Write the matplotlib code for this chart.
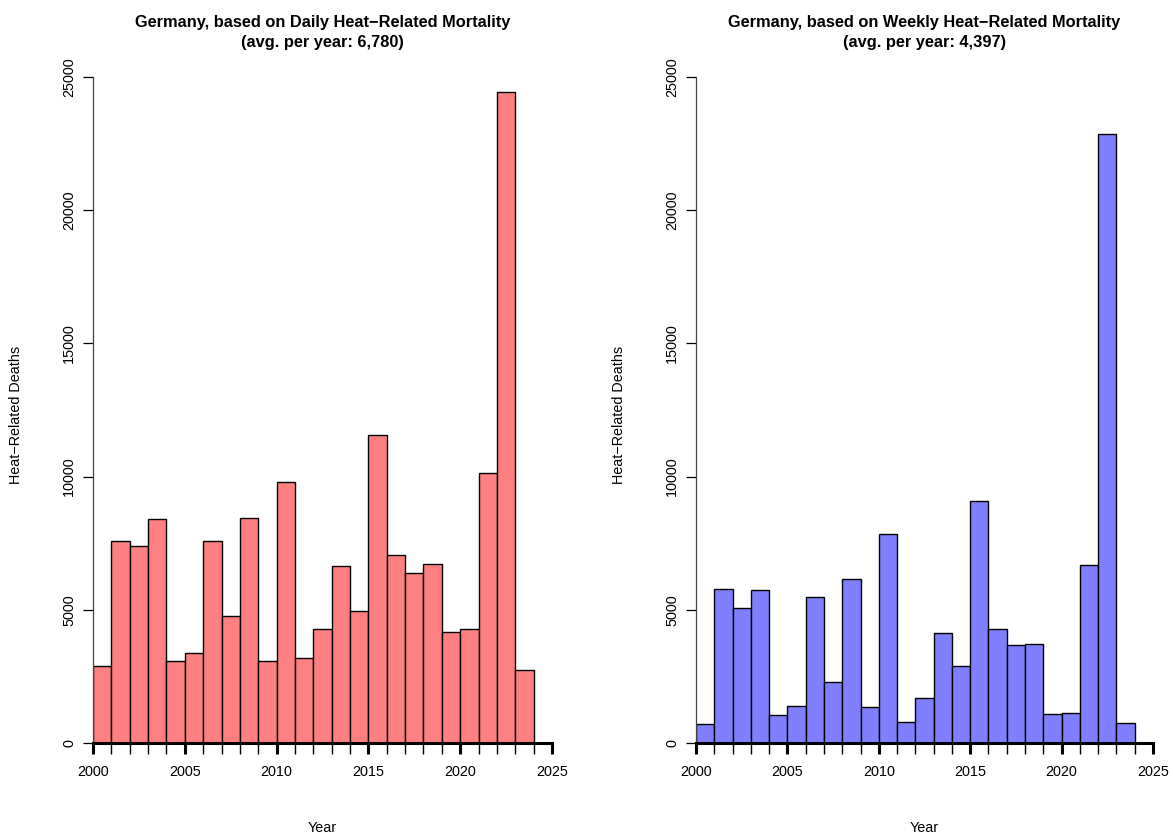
import matplotlib
matplotlib.use("Agg")
import matplotlib.pyplot as plt

plt.rcParams['font.family'] = ['Liberation Sans', 'DejaVu Sans']

years = list(range(2000, 2024))
daily_deaths = [2895, 7570, 7380, 8395, 3070, 3396, 7593, 4761, 8433, 3095,
                9786, 3208, 4273, 6653, 4937, 11553, 7067, 6365, 6716, 4185,
                4285, 10137, 24425, 2732]
weekly_deaths = [714, 5764, 5050, 5739, 1065, 1403, 5488, 2293, 6140, 1366,
                 7831, 789, 1704, 4135, 2907, 9072, 4273, 3696, 3721, 1103,
                 1128, 6691, 22846, 752]
title_lines = [("Germany, based on Daily Heat\u2212Related Mortality", "(avg. per year: 6,780)"),
               ("Germany, based on Weekly Heat\u2212Related Mortality", "(avg. per year: 4,397)")]
colors = ["#FF8080", "#8080FF"]
x_ticks = [2000, 2005, 2010, 2015, 2020, 2025]
y_ticks = [0, 5000, 10000, 15000, 20000, 25000]

W, H = 1173, 836
fig = plt.figure(figsize=(W / 100, H / 100), dpi=100)

panels = [(93, 552), (696, 1153)]
y0, y1 = 743, 77
fs = 10.4

for (xl, xr), vals, (t1, t2), col in zip(panels, [daily_deaths, weekly_deaths], title_lines, colors):
    ax = fig.add_axes([xl / W, 1 - y0 / H, (xr - xl) / W, (y0 - y1) / H])
    ax.bar(years, vals, width=1.0, align='edge', color=col, edgecolor='black', linewidth=1.0, zorder=2)
    ax.set_xlim(2000, 2025)
    ax.set_ylim(0, 25000)
    for s in ['top', 'right']:
        ax.spines[s].set_visible(False)
    ax.spines['left'].set_linewidth(0.9)
    ax.spines['left'].set_color('#444444')
    ax.spines['bottom'].set_linewidth(2.2)
    ax.spines['bottom'].set_zorder(3)
    ax.set_xticks(x_ticks)
    ax.set_xticks(range(2000, 2026), minor=True)
    ax.tick_params(axis='x', which='major', length=8, width=2.2, labelsize=fs, pad=8)
    ax.tick_params(axis='x', which='minor', length=8, width=1.0)
    ax.set_yticks(y_ticks)
    ax.set_yticklabels([str(v) for v in y_ticks], rotation=90, va='center')
    ax.tick_params(axis='y', which='major', length=7, width=0.9, labelsize=fs, pad=5)
    cx = (xl + xr) / 2 / W
    fig.text(cx, 1 - 23 / H, t1, ha='center', va='center', fontsize=11.8, fontweight='bold')
    fig.text(cx, 1 - 43 / H, t2, ha='center', va='center', fontsize=11.8, fontweight='bold')
    fig.text(cx, 1 - 828 / H, "Year", ha='center', va='center', fontsize=fs)
    fig.text((xl - 77) / W, 1 - 415 / H, "Heat\u2212Related Deaths", ha='center', va='center',
             fontsize=fs, rotation=90)

fig.savefig("out.png", dpi=100)
